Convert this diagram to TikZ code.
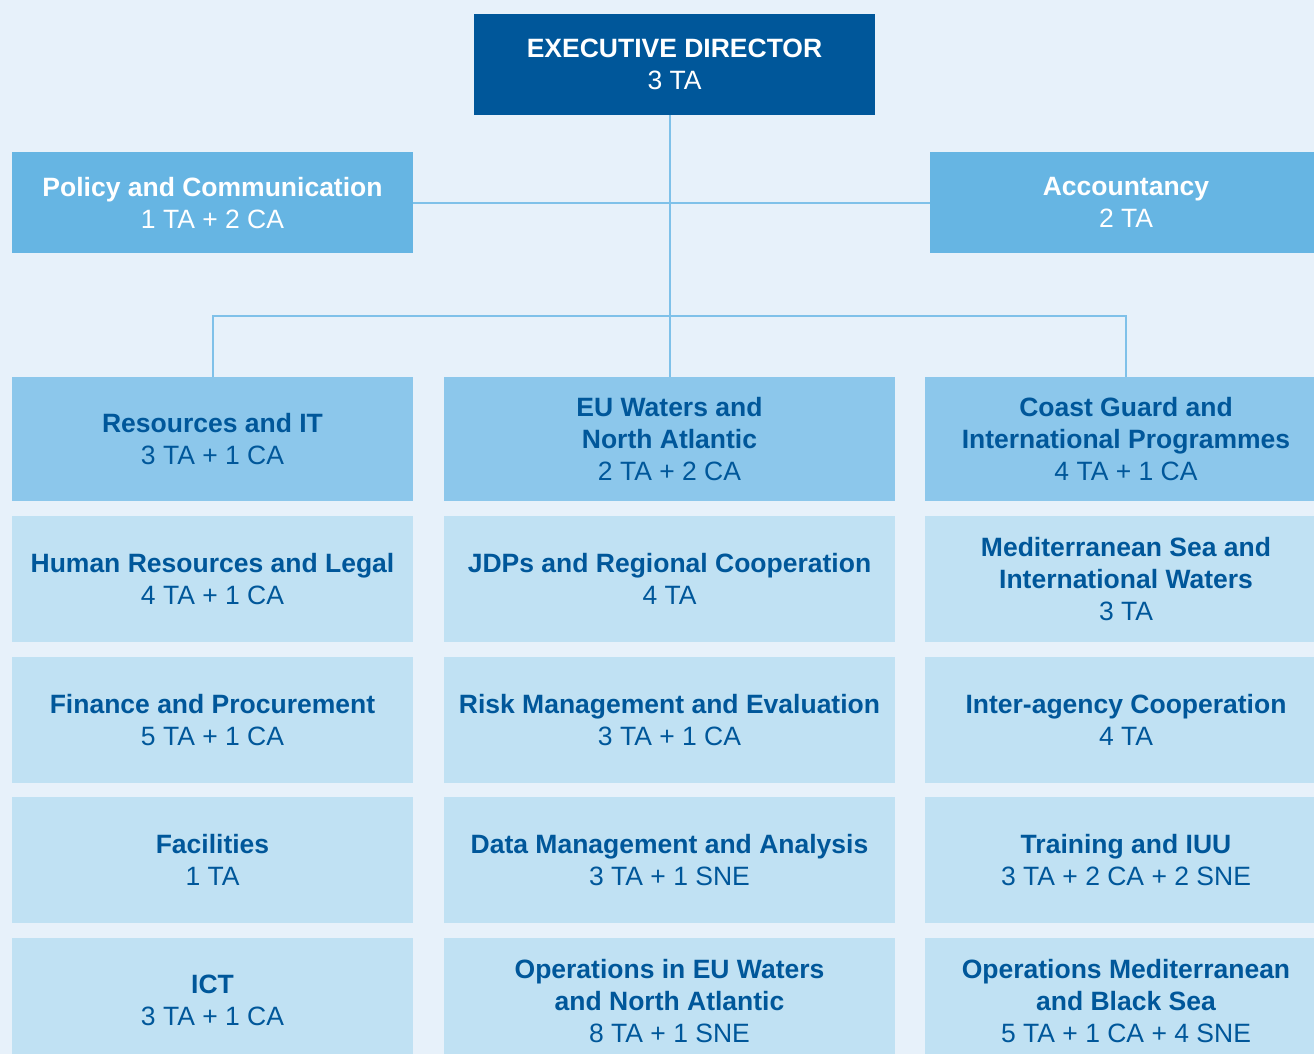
\documentclass[tikz,border=0pt]{standalone}
\usepackage{fontspec}
\setmainfont{Liberation Sans}
\usetikzlibrary{positioning}
\definecolor{edblue}{HTML}{00579A}
\definecolor{unitblue}{HTML}{66B5E3}
\definecolor{headblue}{HTML}{8CC7EB}
\definecolor{secblue}{HTML}{C0E1F3}
\definecolor{lineblue}{HTML}{7FC1E9}
\definecolor{pageblue}{HTML}{E7F1FA}
\newcommand{\dept}[2]{\textbf{#1}\\#2}
\newcommand{\deptii}[3]{\textbf{#1}\\\textbf{#2}\\#3}

\begin{document}
\begin{tikzpicture}[x=1pt, y=-1pt,
    box/.style={inner sep=0pt, outer sep=0pt, align=center, text depth=-10pt,
      font=\fontsize{26.5}{32}\selectfont},
    topbox/.style={box, fill=edblue, text=white, minimum width=401pt, minimum height=101pt},
    unitbox/.style={box, fill=unitblue, text=white, minimum height=101pt},
    headbox/.style={box, fill=headblue, text=edblue, minimum height=124pt},
    secbox/.style={box, fill=secblue, text=edblue, minimum height=126pt},
    link/.style={draw=lineblue, line width=2pt},
    node distance=14.5pt
  ]
  \fill[pageblue] (0,0) rectangle (1314,1054);
  \useasboundingbox (0,0) rectangle (1314,1054);

  % top of the chart
  \node[topbox] (ed) at (674.5,64.5) {\dept{EXECUTIVE DIRECTOR}{3 TA}};
  \node[unitbox, minimum width=401pt] (pol) at (212.5,202.5) {\dept{Policy and Communication}{1 TA + 2 CA}};
  \node[unitbox, minimum width=392pt] (acc) at (1126,202.5) {\dept{Accountancy}{2 TA}};

  % heads of department
  \node[headbox, minimum width=401pt] (res) at (212.5,439) {\dept{Resources and IT}{3 TA + 1 CA}};
  \node[headbox, minimum width=451pt] (euw) at (669.5,439) {\deptii{EU Waters and}{North Atlantic}{2 TA + 2 CA}};
  \node[headbox, minimum width=402pt] (cgi) at (1126,439) {\deptii{Coast Guard and}{International Programmes}{4 TA + 1 CA}};

  % left column
  \node[secbox, minimum width=401pt, below=15pt of res] (hrl) {\dept{Human Resources and Legal}{4 TA + 1 CA}};
  \node[secbox, minimum width=401pt, below=of hrl] (fin) {\dept{Finance and Procurement}{5 TA + 1 CA}};
  \node[secbox, minimum width=401pt, below=of fin] (fac) {\dept{Facilities}{1 TA}};
  \node[secbox, minimum width=401pt, below=of fac] (ict) {\dept{ICT}{3 TA + 1 CA}};

  % middle column
  \node[secbox, minimum width=451pt, below=15pt of euw] (jdp) {\dept{JDPs and Regional Cooperation}{4 TA}};
  \node[secbox, minimum width=451pt, below=of jdp] (risk) {\dept{Risk Management and Evaluation}{3 TA + 1 CA}};
  \node[secbox, minimum width=451pt, below=of risk] (data) {\dept{Data Management and Analysis}{3 TA + 1 SNE}};
  \node[secbox, minimum width=451pt, below=of data] (opeu) {\deptii{Operations in EU Waters}{and North Atlantic}{8 TA + 1 SNE}};

  % right column
  \node[secbox, minimum width=402pt, below=15pt of cgi] (med) {\deptii{Mediterranean Sea and}{International Waters}{3 TA}};
  \node[secbox, minimum width=402pt, below=of med] (iac) {\dept{Inter-agency Cooperation}{4 TA}};
  \node[secbox, minimum width=402pt, below=of iac] (iuu) {\dept{Training and IUU}{3 TA + 2 CA + 2 SNE}};
  \node[secbox, minimum width=402pt, below=of iuu] (opmed) {\deptii{Operations Mediterranean}{and Black Sea}{5 TA + 1 CA + 4 SNE}};

  % connectors
  \draw[link] (ed.south -| euw.north) -- (euw.north);
  \draw[link] (pol.east) -- (acc.west);
  \draw[link] (res.north) -- ++(0,-61) -| (cgi.north);
\end{tikzpicture}
\end{document}
